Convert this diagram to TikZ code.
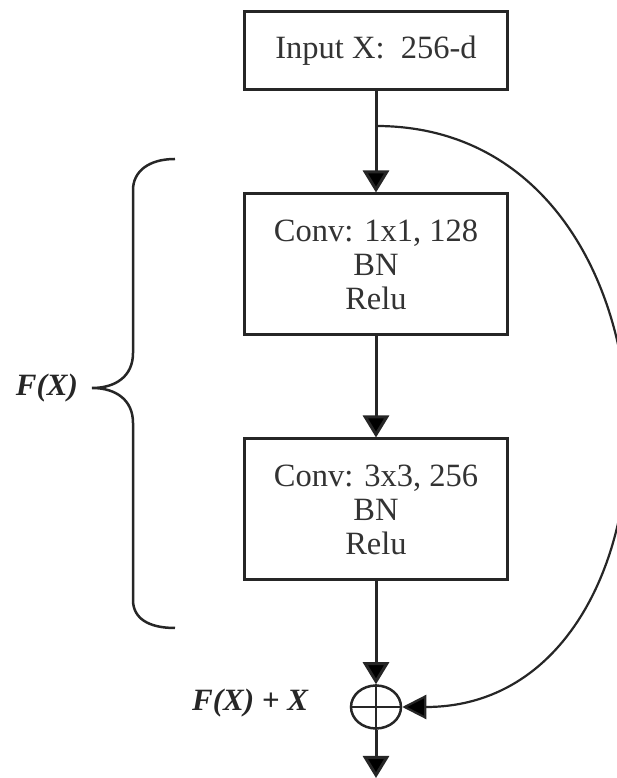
\documentclass[tikz,border=0pt]{standalone}
\usepackage{fontspec}
\setmainfont{Liberation Serif}
\usetikzlibrary{arrows.meta,shapes.geometric}
\begin{document}
\begin{tikzpicture}[x=1pt,y=1pt,
  box/.style={draw=black!85, line width=3pt, minimum width=263pt, inner sep=0pt,
    align=center, font=\fontsize{32.5}{34}\selectfont, text=black!80},
  conn/.style={draw=black!85, line width=3pt, -{Triangle[length=22pt,width=26pt,fill=black]}},
  skip/.style={draw=black!85, line width=2.2pt, -{Triangle[length=24pt,width=24pt,fill=black]}},
  lbl/.style={font=\fontsize{31}{34}\selectfont\bfseries\itshape, text=black!85, inner sep=0pt},
  sumnode/.style={draw=black!85, line width=2.5pt, ellipse, minimum width=50pt, minimum height=43pt, inner sep=0pt}
]
\useasboundingbox (0,0) rectangle (617,778);
\clip (0,0) rectangle (617,778);

\node[box, minimum height=78pt] (in) at (376,727) {Input X:\ \ 256-d};
\node[box, minimum height=141pt] (c1) at (376,513.5) {Conv: 1x1, 128\\BN\\Relu};
\node[box, minimum height=141pt] (c2) at (376,268.5) {Conv: 3x3, 256\\BN\\Relu};
\node[sumnode] (plus) at (376,71) {};
\draw[draw=black!85, line width=2.5pt] (plus.west) -- (plus.east) (plus.north) -- (plus.south);
\coordinate (split) at (376,652);
\coordinate (out) at (376,0);

\draw[conn] (in) -- (c1);
\draw[conn] (c1) -- (c2);
\draw[conn] (c2) -- (plus);
\draw[conn] (plus) -- (out);
\draw[skip] (split) .. controls (703,652) and (703,71) .. (plus.east);

% brace
\draw[draw=black!85, line width=2.5pt]
  (175,619) .. controls (148,619) and (133,606) .. (133,588) -- (133,425)
  .. controls (133,402) and (116,390) .. (92,390)
  .. controls (116,390) and (133,378) .. (133,355) -- (133,178)
  .. controls (133,160) and (148,150) .. (175,150);

\node[lbl] (fx) at (47,390) {F(X)};
\node[lbl] (fxx) at (250,75) {F(X) + X};
\end{tikzpicture}
\end{document}
